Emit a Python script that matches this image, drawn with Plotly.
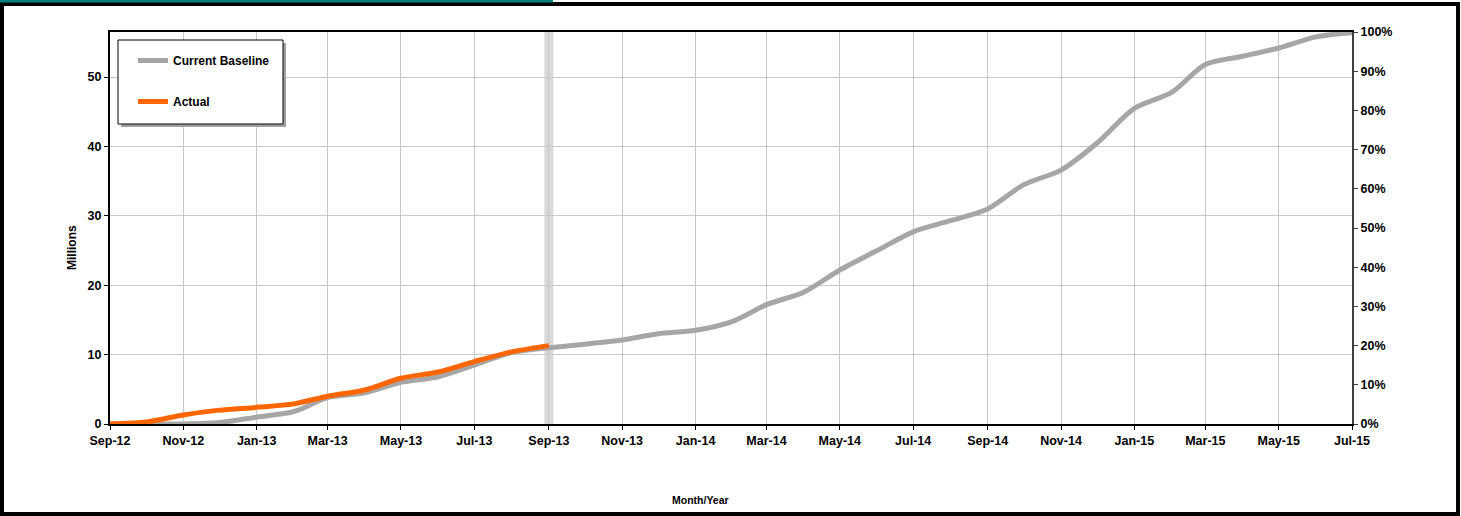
import plotly.graph_objects as go
import pandas as pd

months = pd.date_range("2012-09-01", "2015-07-01", freq="MS")
baseline = [0, 0, 0, 0.2, 1.0, 1.8, 3.8, 4.5, 6.0, 6.8, 8.5, 10.3, 11.0,
            11.5, 12.1, 13.0, 13.5, 14.8, 17.2, 19.0, 22.2, 25.0, 27.7, 29.3,
            31.0, 34.5, 36.6, 40.5, 45.5, 47.8, 51.8, 53.0, 54.2, 55.8, 56.4]
actual = [0, 0.3, 1.3, 2.0, 2.4, 2.9, 4.0, 4.9, 6.6, 7.5, 9.0, 10.4, 11.3]
status_date = "2013-09-01"
total = baseline[-1]
baseline_pct = [v / total * 100 for v in baseline]

W, H = 1461, 516
L, R, T, B = 110, 1352, 32, 424

def px(x):
    return (x - L) / (R - L)

def py(y):
    return (B - y) / (B - T)

FONT = "Liberation Sans"

fig = go.Figure()
fig.add_trace(go.Scatter(x=months, y=baseline, name="Current Baseline", mode="lines",
                         line=dict(color="#A6A6A6", width=5, shape="spline", smoothing=0.8),
                         legendgroup="a"))
fig.add_trace(go.Scatter(x=months[:len(actual)], y=actual, name="Actual", mode="lines",
                         line=dict(color="#FF6600", width=5, shape="spline", smoothing=0.8),
                         legendgroup="b"))
fig.add_trace(go.Scatter(x=months, y=baseline_pct, yaxis="y2", mode="lines",
                         line=dict(width=0, color="rgba(0,0,0,0)"), showlegend=False,
                         hoverinfo="skip"))

shapes = [
    # data date bar
    dict(type="line", xref="x", yref="paper", x0=status_date, x1=status_date, y0=0, y1=1,
         line=dict(color="#D9D9D9", width=9), layer="between"),
    # outer frame
    dict(type="rect", xref="paper", yref="paper", x0=px(2), x1=px(1458), y0=py(514), y1=py(4),
         line=dict(color="black", width=4)),
    # teal top strip
    dict(type="line", xref="paper", yref="paper", x0=px(0), x1=px(553), y0=py(1), y1=py(1),
         line=dict(color="#00807A", width=3)),
    # legend shadow
    dict(type="rect", xref="paper", yref="paper", x0=px(121), x1=px(286), y0=py(127), y1=py(43),
         fillcolor="#A0A0A0", line=dict(width=0), layer="above"),
    # legend box
    dict(type="rect", xref="paper", yref="paper", x0=px(118), x1=px(283), y0=py(124), y1=py(40),
         fillcolor="white", line=dict(color="black", width=1), layer="above"),
]

fig.update_layout(
    width=W, height=H,
    margin=dict(l=L, r=W - R, t=T, b=H - B),
    paper_bgcolor="white", plot_bgcolor="white",
    font=dict(family=FONT, size=12, color="black"),
    showlegend=True,
    legend=dict(x=px(133), y=py(46), xanchor="left", yanchor="top",
                bgcolor="rgba(0,0,0,0)", borderwidth=0,
                font=dict(family=FONT, size=12, color="black", weight="bold"),
                tracegroupgap=22, traceorder="grouped",
                itemwidth=30),
    xaxis=dict(type="date", range=["2012-09-01", "2015-07-01"], tick0="2012-09-01", dtick="M2",
               tickformat="%b-%y", showgrid=True, gridcolor="#C8C8C8", gridwidth=1,
               showline=True, linecolor="black", linewidth=2, mirror=True,
               ticks="outside", ticklen=4, tickcolor="black",
               tickfont=dict(family=FONT, size=12.5, weight="bold"), zeroline=False),
    yaxis=dict(range=[0, 56.5], tickvals=[0, 10, 20, 30, 40, 50], showgrid=True,
               gridcolor="#C8C8C8", gridwidth=1, showline=True, linecolor="black", linewidth=2,
               ticks="outside", ticklen=4, tickcolor="black", zeroline=False,
               tickfont=dict(family=FONT, size=12.5, weight="bold")),
    yaxis2=dict(range=[0, 100], overlaying="y", side="right", dtick=10, ticksuffix="%",
                showgrid=False, showline=True, linecolor="#404040", linewidth=2,
                ticks="outside", ticklen=4, tickcolor="#404040", zeroline=False,
                tickfont=dict(family=FONT, size=12.5, weight="bold")),
    shapes=shapes,
    annotations=[
        dict(text="Millions", xref="paper", yref="paper", x=px(72), y=py(248), textangle=-90,
             xanchor="center", yanchor="middle",
             showarrow=False, font=dict(family=FONT, size=12, weight="bold")),
        dict(text="Month/Year", xref="paper", yref="paper", x=px(700), y=py(500),
             xanchor="center", yanchor="middle",
             showarrow=False, font=dict(family=FONT, size=10.5, weight="bold")),
    ],
)

fig.write_html("out.html")
